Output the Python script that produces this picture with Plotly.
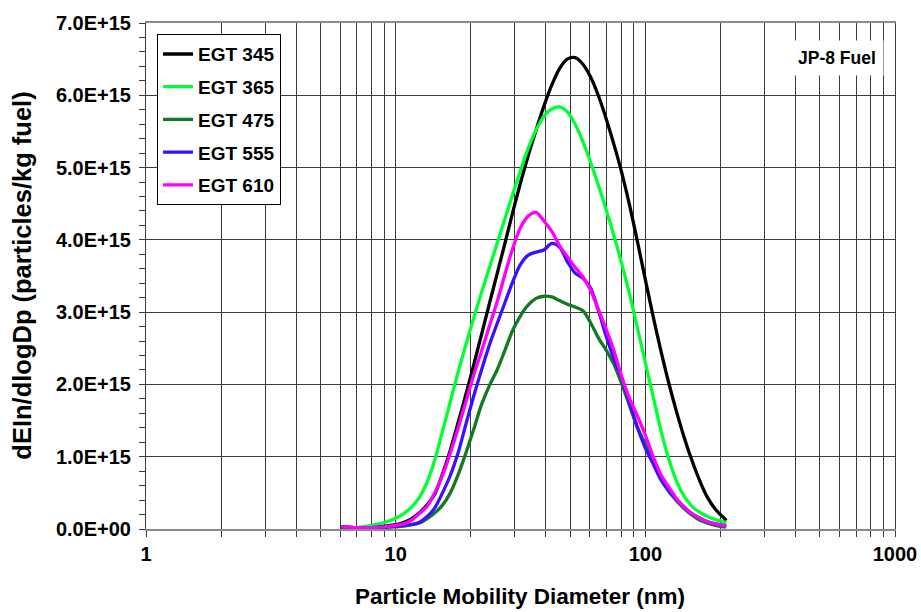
import plotly.graph_objects as go

# Particle mobility diameter channels (nm)
diam_nm = [6.04, 7.0, 8.0, 9.0,
           10.0, 10.75, 11.55, 12.41, 13.34, 14.33, 15.40, 16.55, 17.78, 19.11,
           20.54, 22.07, 23.71, 25.48, 27.38, 29.43, 31.62, 33.98, 36.52, 39.24,
           42.17, 45.32, 48.70, 52.33, 56.23, 60.43, 64.94, 69.78, 74.99, 80.58,
           86.60, 93.06, 100.0, 107.5, 115.5, 124.1, 133.4, 143.3, 154.0, 165.5,
           177.8, 191.1, 205.4, 211.0]

# dEIn/dlogDp in units of 1E+15 particles/kg fuel
egt_345 = [0.03, 0.02, 0.02, 0.04,
           0.06, 0.09, 0.14, 0.22, 0.33, 0.48, 0.76, 1.09, 1.47, 1.86,
           2.27, 2.69, 3.11, 3.53, 3.95, 4.38, 4.79, 5.17, 5.52, 5.85,
           6.14, 6.37, 6.50, 6.52, 6.43, 6.25, 5.99, 5.67, 5.31, 4.92,
           4.47, 3.97, 3.45, 2.94, 2.46, 2.02, 1.62, 1.26, 0.94, 0.66,
           0.43, 0.27, 0.16, 0.12]
egt_365 = [0.02, 0.02, 0.05, 0.09,
           0.15, 0.21, 0.30, 0.43, 0.64, 0.95, 1.35, 1.76, 2.17, 2.55,
           2.92, 3.27, 3.61, 3.95, 4.29, 4.63, 4.96, 5.27, 5.52, 5.71,
           5.81, 5.84, 5.77, 5.60, 5.36, 5.07, 4.75, 4.41, 4.05, 3.66,
           3.24, 2.78, 2.30, 1.83, 1.36, 0.97, 0.66, 0.45, 0.31, 0.23,
           0.17, 0.13, 0.10, 0.08]
egt_475 = [0.01, 0.01, 0.01, 0.02,
           0.03, 0.04, 0.06, 0.08, 0.14, 0.22, 0.33, 0.50, 0.75, 1.05,
           1.38, 1.72, 1.98, 2.20, 2.47, 2.75, 2.95, 3.10, 3.19, 3.22,
           3.21, 3.16, 3.11, 3.07, 3.02, 2.85, 2.64, 2.47, 2.27, 2.00,
           1.70, 1.40, 1.18, 0.93, 0.70, 0.52, 0.39, 0.28, 0.19, 0.12,
           0.08, 0.05, 0.03, 0.03]
egt_555 = [0.03, 0.02, 0.02, 0.03,
           0.04, 0.05, 0.06, 0.09, 0.17, 0.29, 0.50, 0.74, 1.05, 1.45,
           1.84, 2.20, 2.54, 2.84, 3.13, 3.42, 3.66, 3.79, 3.83, 3.86,
           3.95, 3.90, 3.70, 3.54, 3.47, 3.33, 3.02, 2.66, 2.35, 2.08,
           1.74, 1.40, 1.12, 0.90, 0.68, 0.53, 0.41, 0.30, 0.21, 0.15,
           0.10, 0.07, 0.05, 0.04]
egt_610 = [0.03, 0.02, 0.02, 0.03,
           0.05, 0.07, 0.12, 0.21, 0.31, 0.50, 0.74, 1.05, 1.39, 1.76,
           2.13, 2.46, 2.80, 3.14, 3.52, 3.88, 4.17, 4.33, 4.38, 4.26,
           4.12, 3.92, 3.77, 3.62, 3.49, 3.30, 3.03, 2.76, 2.46, 2.10,
           1.80, 1.56, 1.30, 1.00, 0.75, 0.58, 0.42, 0.30, 0.21, 0.15,
           0.10, 0.07, 0.05, 0.04]

series_names = ["EGT 345", "EGT 365", "EGT 475", "EGT 555", "EGT 610"]
series_values = [egt_345, egt_365, egt_475, egt_555, egt_610]
series_colors = ["#000000", "#00ff33", "#117a22", "#3a10ff", "#ff00ff"]

# Axis ticks
y_tick_vals = [0, 1e15, 2e15, 3e15, 4e15, 5e15, 6e15, 7e15]
y_tick_text = ["0.0E+00", "1.0E+15", "2.0E+15", "3.0E+15", "4.0E+15",
               "5.0E+15", "6.0E+15", "7.0E+15"]
x_decades = [1, 10, 100]
x_tick_vals = [m * d for d in x_decades for m in range(1, 10)] + [1000]
x_tick_text = [str(v) if v in (1, 10, 100, 1000) else "" for v in x_tick_vals]

FONT = "Liberation Sans, Arial, sans-serif"

fig = go.Figure()
for name, vals, color in zip(series_names, series_values, series_colors):
    fig.add_trace(go.Scatter(
        x=diam_nm,
        y=[v * 1e15 for v in vals],
        mode="lines",
        name=name,
        legendgroup=name,
        line=dict(color=color, width=3.3, shape="spline", smoothing=0.8),
    ))

grid = "#3c3c3c"
fig.update_layout(
    width=921, height=612,
    margin=dict(l=146, r=26, t=23, b=83),
    paper_bgcolor="white", plot_bgcolor="white",
    font=dict(family=FONT, color="black"),
    showlegend=True,
    legend=dict(
        x=0.0147, y=0.978, xanchor="left", yanchor="top",
        bgcolor="white", bordercolor="black", borderwidth=1,
        font=dict(family=FONT, size=19, color="black", weight="bold"),
        tracegroupgap=5, itemwidth=30,
    ),
    xaxis=dict(
        type="log", range=[0, 3], automargin=False,
        tickmode="array", tickvals=x_tick_vals, ticktext=x_tick_text,
        ticks="outside", ticklen=6, tickcolor=grid,
        tickfont=dict(family=FONT, size=20, color="black", weight="bold"),
        showgrid=True, gridcolor=grid, gridwidth=1,
        showline=True, linecolor="#8a8a8a", linewidth=2, mirror=True,
        zeroline=False,
    ),
    yaxis=dict(
        range=[0, 7e15], automargin=False,
        tickmode="array", tickvals=y_tick_vals, ticktext=y_tick_text,
        ticks="outside", ticklen=6, tickcolor=grid,
        tickfont=dict(family=FONT, size=20, color="black", weight="bold"),
        ticklabelstandoff=4,
        minor=dict(tickmode="linear", tick0=0, dtick=2e14, ticks="outside",
                   ticklen=6, tickcolor=grid, showgrid=False),
        showgrid=True, gridcolor=grid, gridwidth=1,
        showline=True, linecolor="#3c3c3c", linewidth=1, mirror=True,
        zeroline=False,
    ),
    annotations=[
        dict(text="Particle Mobility Diameter (nm)", xref="paper", yref="paper",
             x=0.4993, y=-0.134, xanchor="center", yanchor="middle", showarrow=False,
             font=dict(family=FONT, size=22.5, color="black", weight="bold")),
        dict(text="dEIn/dlogDp (particles/kg fuel)", xref="paper", yref="paper",
             x=-0.166, y=0.5, xanchor="center", yanchor="middle", showarrow=False,
             textangle=-90,
             font=dict(family=FONT, size=25.5, color="black", weight="bold")),
        dict(text="JP-8 Fuel", xref="paper", yref="paper",
             x=0.922, y=0.931, xanchor="center", yanchor="middle", showarrow=False,
             bgcolor="white", borderpad=7,
             font=dict(family=FONT, size=17.5, color="black", weight="bold")),
    ],
)

fig.write_html("out.html")
